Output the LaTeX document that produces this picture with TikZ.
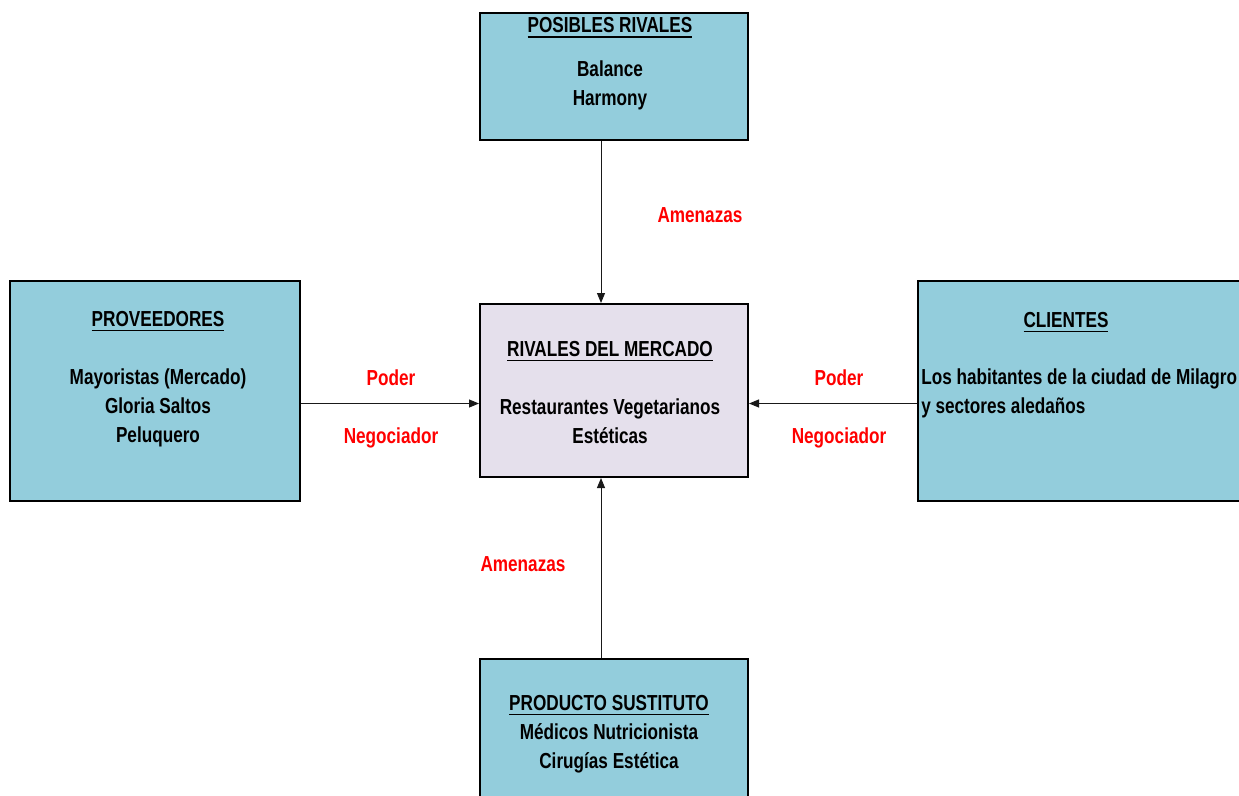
\documentclass[tikz,border=0pt]{standalone}
\usepackage{fontspec}
\setmainfont{Liberation Sans}[FakeStretch=0.79]
\usetikzlibrary{positioning,arrows.meta}
\definecolor{celeste}{HTML}{93CDDC}
\definecolor{lila}{HTML}{E5E0EC}
\newcommand{\subrayado}[1]{\setbox0\hbox{#1}\rlap{\rule[-4pt]{\wd0}{1.3pt}}\box0}

\begin{document}
\begin{tikzpicture}[x=0.75pt,y=-0.75pt]
    \tikzset{Caja/.style = {draw, line width=1.5pt, fill=celeste, inner sep=0pt},
             Texto/.style = {font=\fontsize{16.3}{21.75}\selectfont\bfseries, align=center, anchor=base, inner sep=0pt},
             Rojo/.style = {Texto, text=red},
             Flecha/.style = {draw=black!90, line width=0.75pt, -{Triangle[length=7.5pt,width=6pt]}}}
    \useasboundingbox (0,0) rectangle (1239,796);
    \clip (0,0) rectangle (1239,796);
    \node[Caja, fill=lila, minimum width=201pt, minimum height=129.75pt] (riv) at (614,390.5) {};
    \node[Caja, minimum width=201pt, minimum height=95.25pt, above=121.5pt of riv] (pos) {};
    \node[Caja, minimum width=217.5pt, minimum height=165pt, left=133.5pt of riv] (prov) {};
    \node[Caja, minimum width=249pt, minimum height=165pt, right=126pt of riv] (cli) {};
    \node[Caja, minimum width=201pt, minimum height=120.75pt, below=135pt of riv] (sust) {};
    \node[Texto] (postxt) at (610,105) {\subrayado{POSIBLES RIVALES}\\[11pt] Balance\\ Harmony};
    \node[Texto] (rivtxt) at (610,443) {\subrayado{RIVALES DEL MERCADO}\\[21.75pt] Restaurantes Vegetarianos\\ Estéticas};
    \node[Texto] (provtxt) at (158,442) {\subrayado{PROVEEDORES}\\[21.75pt] Mayoristas (Mercado)\\ Gloria Saltos\\ Peluquero};
    \node[Texto] (clitit) at (1066,327) {\subrayado{CLIENTES}};
    \node[Texto, align=left, anchor=base west] (clitxt) at (921,413) {Los habitantes de la ciudad de Milagro\\ y sectores aledaños};
    \node[Texto] (susttxt) at (609,768) {\subrayado{PRODUCTO SUSTITUTO}\\ Médicos Nutricionista\\ Cirugías Estética};
    \draw[Flecha] ([xshift=-9.75pt]pos.south) -- ([xshift=-9.75pt]riv.north);
    \draw[Flecha] ([yshift=-9.75pt]prov.east) -- ([yshift=-9.75pt]riv.west);
    \draw[Flecha] ([yshift=-9.75pt]cli.west) -- ([yshift=-9.75pt]riv.east);
    \draw[Flecha] ([xshift=-9.75pt]sust.north) -- ([xshift=-9.75pt]riv.south);
    \node[Rojo] (amen1) at (700,222) {Amenazas};
    \node[Rojo] (amen2) at (523,571) {Amenazas};
    \node[Rojo] (poder1) at (391,385) {Poder};
    \node[Rojo] (neg1) at (391,443) {Negociador};
    \node[Rojo] (poder2) at (839,385) {Poder};
    \node[Rojo] (neg2) at (839,443) {Negociador};
\end{tikzpicture}
\end{document}
